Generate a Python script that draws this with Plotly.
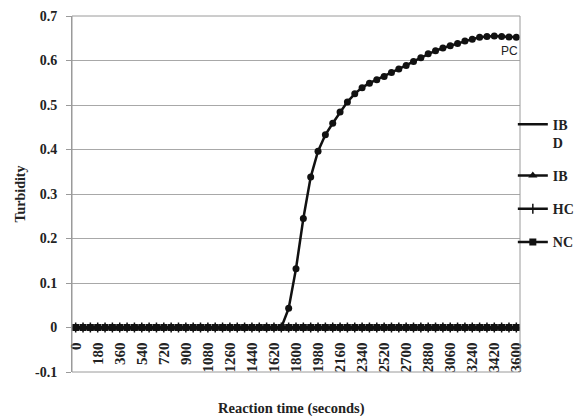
import plotly.graph_objects as go

# Data
times = list(range(0, 3601, 60))
categories = [str(t) for t in times]
tick_labels = [str(t) for t in range(0, 3601, 180)]

pc_values = [0.0] * 29 + [
    0.043, 0.132, 0.245, 0.338, 0.396, 0.433, 0.459, 0.484, 0.507, 0.525,
    0.539, 0.549, 0.557, 0.564, 0.573, 0.581, 0.589, 0.598, 0.606, 0.615,
    0.622, 0.628, 0.633, 0.638, 0.644, 0.648, 0.652, 0.654, 0.655, 0.654,
    0.653, 0.652,
]
ibd_values = [0.0] * len(times)
ib_values = [0.0] * len(times)
hc_values = [0.0] * len(times)
nc_values = [0.0] * len(times)

serif = "Liberation Serif"
black = "#111111"

fig = go.Figure()

fig.add_trace(go.Scatter(
    x=categories, y=pc_values, mode="lines+markers", name="PC",
    line=dict(color=black, width=2.5),
    marker=dict(symbol="circle", size=7, color=black),
    showlegend=False,
))
fig.add_trace(go.Scatter(
    x=categories, y=ibd_values, mode="lines", name="IB<br>D",
    line=dict(color=black, width=2.5), legendgroup="g1",
))
fig.add_trace(go.Scatter(
    x=categories, y=ib_values, mode="lines+markers", name="IB",
    line=dict(color=black, width=2.5),
    marker=dict(symbol="triangle-up", size=8, color=black), legendgroup="g2",
))
fig.add_trace(go.Scatter(
    x=categories, y=hc_values, mode="lines+markers", name="HC",
    line=dict(color=black, width=2.5),
    marker=dict(symbol="cross-thin", size=7, color=black,
                line=dict(color=black, width=1.5)), legendgroup="g3",
))
fig.add_trace(go.Scatter(
    x=categories, y=nc_values, mode="lines+markers", name="NC",
    line=dict(color=black, width=2.5),
    marker=dict(symbol="square", size=7, color=black), legendgroup="g4",
))

# "PC" label next to the last point of the PC curve (category index of last point)
fig.add_annotation(
    x=len(categories) - 1, y=pc_values[-1], text="PC", showarrow=False,
    xanchor="right", yanchor="top", yshift=-5, xshift=4,
    font=dict(family="Liberation Sans", size=12, color="#222"),
)
fig.add_annotation(
    x=0.5, y=-0.102, xref="paper", yref="paper", text="<b>Reaction time (seconds)</b>",
    showarrow=False, xanchor="center", yanchor="middle", xshift=-5,
    font=dict(family=serif, size=14.5, color="#222"),
)

fig.add_shape(type="rect", xref="paper", yref="paper", x0=0, x1=1, y0=0, y1=1,
              line=dict(color="#9a9a9a", width=1), layer="above")

fig.update_layout(
    width=577, height=416,
    margin=dict(l=72, r=57, t=16, b=44, autoexpand=False),
    plot_bgcolor="white", paper_bgcolor="white",
    font=dict(family=serif, color="#222"),
    legend=dict(
        x=0.984, y=0.74, xanchor="left", yanchor="top",
        bgcolor="rgba(0,0,0,0)", valign="top",
        font=dict(family=serif, size=14, color="#222", weight="bold"),
        tracegroupgap=12, itemwidth=30,
    ),
    xaxis=dict(
        type="category", categoryorder="array", categoryarray=categories,
        range=[-0.5, len(categories) - 0.5],
        tickmode="array", tickvals=tick_labels, ticktext=tick_labels,
        tickangle=-90, showgrid=False, zeroline=False, showline=False,
        ticks="", anchor="free", position=0.125, automargin=False,
        ticklabelstandoff=11,
        tickfont=dict(family=serif, size=15, color="#222", weight="bold"),
    ),
    yaxis=dict(
        range=[-0.1, 0.7], tickmode="array",
        tickvals=[-0.1, 0, 0.1, 0.2, 0.3, 0.4, 0.5, 0.6, 0.7],
        ticktext=["-0.1", "0", "0.1", "0.2", "0.3", "0.4", "0.5", "0.6", "0.7"],
        showgrid=True, gridcolor="#a8a8a8", gridwidth=1, zeroline=False,
        showline=True, linecolor="#9a9a9a", ticks="outside", ticklen=5,
        tickcolor="#9a9a9a", automargin=False, ticklabelstandoff=6,
        title=dict(text="Turbidity", standoff=6,
                   font=dict(family=serif, size=14, color="#222", weight="bold")),
        tickfont=dict(family=serif, size=14, color="#222", weight="bold"),
    ),
)

fig.write_html("out.html", config={"displayModeBar": False},
               post_script="document.body.style.margin='0';")
